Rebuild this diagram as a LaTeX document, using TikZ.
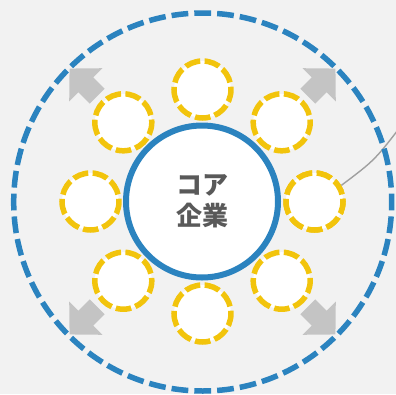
\documentclass[tikz,border=0pt]{standalone}
\usepackage{fontspec}
\newfontfamily\jp{Noto Sans CJK JP}
\definecolor{bg}{HTML}{F2F2F2}
\definecolor{cblue}{HTML}{2B83BF}
\definecolor{cyellow}{HTML}{F2C40C}
\definecolor{cgray}{HTML}{C4C4C4}
\definecolor{lgray}{HTML}{A0A0A0}
\definecolor{ctext}{HTML}{595959}
\tikzset{
  outerring/.style={circle, draw=cblue, line width=5.5pt, minimum size=378pt, inner sep=0pt,
    dash pattern=on 16.8pt off 6.04pt, dash phase=8.4pt},
  corenode/.style={circle, draw=cblue, fill=white, line width=6pt, minimum size=152pt, inner sep=0pt,
    font=\jp\bfseries\fontsize{26pt}{31pt}\selectfont, text=ctext, align=center},
  member/.style={circle, draw=cyellow, fill=white, line width=5.5pt, minimum size=57pt, inner sep=0pt,
    dash pattern=on 15.5pt off 4.4pt, dash phase=12.7pt},
  expandarrow/.style={fill=cgray, draw=none},
  conn/.style={draw=lgray, line width=1.4pt}
}
\begin{document}
\begin{tikzpicture}[x=1pt,y=-1pt]
\useasboundingbox (0,0) rectangle (396,394);
\fill[bg] (0,0) rectangle (396,394);
\clip (0,0) rectangle (396,394);
% members
\foreach \a in {0,45,90,135,180,225,270,315}{
  \node[member] (y\a) at ({202.5+112*cos(\a)},{201.5-112*sin(\a)}) {};
}
% connector to outside
\coordinate (ext) at (404,122);
\draw[conn] (y0.31) .. controls (375,160) .. (ext);
% outer ring
\node[outerring] (ring) at (202.7,202) {};
% redraw member on top of connector start
\node[member] at (y0) {};
% core
\node[corenode] (core) at (202,201.5) {コア\\企業};
% arrows
\foreach \a in {45,135,225,315}{
  \begin{scope}[shift={(202.5,201.5)}, rotate=\a]
    \fill[expandarrow] (149,-10.5) -- (165,-10.5) -- (165,-23.5) -- (188,0)
      -- (165,23.5) -- (165,10.5) -- (149,10.5) -- cycle;
  \end{scope}
}
\end{tikzpicture}
\end{document}
